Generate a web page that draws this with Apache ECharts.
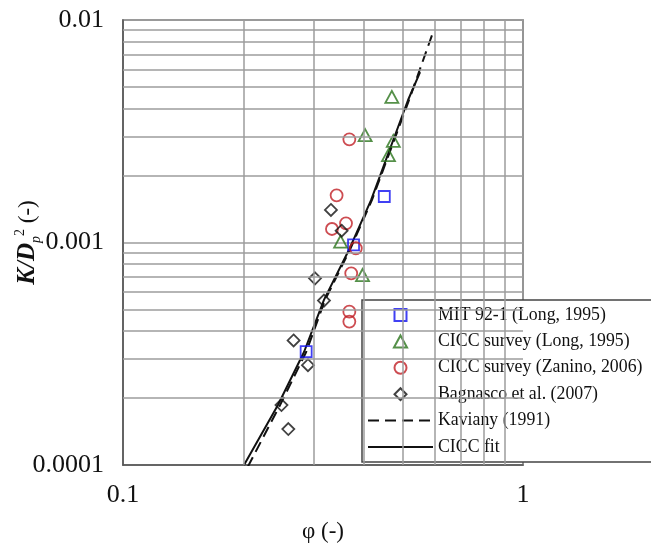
<!DOCTYPE html>
<html>
<head>
<meta charset="utf-8">
<script src="https://cdn.jsdelivr.net/npm/echarts@6/dist/echarts.min.js"></script>
<style>
html, body { margin: 0; padding: 0; background: #fff; }
#main { width: 651px; height: 550px; }
</style>
</head>
<body>
<div id="main"></div>
<script>
// MIT 92-1 (Long, 1995)
var mitX = [0.450, 0.377, 0.287];
var mitY = [0.00161, 0.000975, 0.000323];
// CICC survey (Long, 1995)
var longX = [0.470, 0.403, 0.474, 0.461, 0.350, 0.397];
var longY = [0.00451, 0.00304, 0.00286, 0.00247, 0.00101, 0.000714];
// CICC survey (Zanino, 2006)
var zaninoX = [0.368, 0.342, 0.333, 0.361, 0.382, 0.372, 0.368, 0.368];
var zaninoY = [0.00291, 0.00163, 0.00115, 0.00122, 0.000942, 0.000727, 0.000489, 0.000441];
// Bagnasco et al. (2007)
var bagX = [0.331, 0.352, 0.302, 0.318, 0.267, 0.290, 0.249, 0.259];
var bagY = [0.00140, 0.00113, 0.000690, 0.000548, 0.000363, 0.000281, 0.000186, 0.000145];
// Kaviany (1991)
var kavX = [0.205, 0.247, 0.287, 0.320, 0.369, 0.419, 0.519, 0.596];
var kavY = [0.000098, 0.000186, 0.000322, 0.000552, 0.000925, 0.00155, 0.00437, 0.00883];
// CICC fit
var fitX = [0.2007, 0.244, 0.2835, 0.318, 0.367, 0.417, 0.516, 0.553];
var fitY = [0.0001, 0.000186, 0.000322, 0.000552, 0.000925, 0.00155, 0.00437, 0.00583];

// minor grid values (log axes)
var xMinor = [0.2, 0.3, 0.4, 0.5, 0.6, 0.7, 0.8, 0.9];
var yMinor = [0.0002, 0.0003, 0.0004, 0.0005, 0.0006, 0.0007, 0.0008, 0.0009,
              0.002, 0.003, 0.004, 0.005, 0.006, 0.007, 0.008, 0.009];
var xMin = 0.1, xMax = 1, yMin = 0.0001, yMax = 0.01;

var serif = 'Liberation Serif';
var gridCol = '#9c9c9c';

function pairs(xs, ys) {
	var out = [];
	for (var i = 0; i < xs.length; i++) out.push([xs[i], ys[i]]);
	return out;
}

function marker(name, sym, size, col, xs, ys) {
	return {
		name: name, type: 'scatter', z: 3,
		symbol: sym, symbolSize: size,
		itemStyle: { color: 'rgba(0,0,0,0)', borderColor: col, borderWidth: 1.8 },
		data: pairs(xs, ys)
	};
}

// minor gridlines as marklines through the axis scales
var minorLines = [];
xMinor.forEach(function (v) { minorLines.push([{ coord: [v, yMin] }, { coord: [v, yMax] }]); });
yMinor.forEach(function (v) { minorLines.push([{ coord: [xMin, v] }, { coord: [xMax, v] }]); });

var noDot = { color: 'rgba(0,0,0,0)', borderWidth: 0 };

var chart = echarts.init(document.getElementById('main'));
chart.setOption({
	animation: false,
	grid: { left: 123, top: 20, width: 400, height: 445, show: true, borderColor: '#555', borderWidth: 1.5,
		containLabel: false, outerBoundsMode: 'none' },
	legend: {
		orient: 'vertical', left: 362, top: 300,
		padding: [5, 60, 5, 5],
		itemWidth: 65, itemHeight: 12, itemGap: 6.4,
		symbolKeepAspect: true,
		backgroundColor: '#fff', borderColor: '#444', borderWidth: 1.5,
		selectedMode: false,
		textStyle: { fontFamily: serif, fontSize: 17.8, color: '#111', lineHeight: 20 },
		data: [
			{ name: 'MIT 92-1 (Long, 1995)', icon: 'path://M0,0L11,0L11,11L0,11Z' },
			{ name: 'CICC survey (Long, 1995)', icon: 'path://M6,0L12,11L0,11Z' },
			{ name: 'CICC survey (Zanino, 2006)', icon: 'circle' },
			{ name: 'Bagnasco et al. (2007)', icon: 'path://M6,0L12,6L6,12L0,6Z' },
			{ name: 'Kaviany (1991)', itemStyle: noDot },
			{ name: 'CICC fit', itemStyle: noDot }]
	},
	xAxis: {
		type: 'log', logBase: 10, min: xMin, max: xMax,
		name: 'φ (-)', nameLocation: 'middle', nameGap: 55, nameMoveOverlap: false,
		nameTextStyle: { fontFamily: serif, fontSize: 23, color: '#111' },
		axisLine: { lineStyle: { color: '#555', width: 1.5 } },
		axisTick: { show: false },
		axisLabel: { fontFamily: serif, fontSize: 26, color: '#111', margin: 17,
			formatter: function (v) { return String(+v.toPrecision(3)); } },
		splitLine: { show: true, lineStyle: { color: gridCol, width: 1.5 } }
	},
	yAxis: {
		type: 'log', logBase: 10, min: yMin, max: yMax,
		name: '{k|K/D}{p|p}{s|2}{n| (-)}', nameLocation: 'middle', nameGap: 80, nameRotate: 90,
		nameMoveOverlap: false,
		nameTextStyle: {
			fontFamily: serif, fontSize: 23, color: '#111', lineHeight: 30,
			rich: {
				k: { fontFamily: serif, fontSize: 25, fontWeight: 'bold', fontStyle: 'italic', color: '#111', lineHeight: 30 },
				p: { fontFamily: serif, fontSize: 14, fontStyle: 'italic', color: '#111', verticalAlign: 'bottom', lineHeight: 30 },
				s: { fontFamily: serif, fontSize: 14, color: '#111', verticalAlign: 'top', lineHeight: 30 },
				n: { fontFamily: serif, fontSize: 23, color: '#111', lineHeight: 30 }
			}
		},
		axisLine: { lineStyle: { color: '#555', width: 1.5 } },
		axisTick: { show: false },
		axisLabel: { fontFamily: serif, fontSize: 26, color: '#111', margin: 19,
			formatter: function (v) { return String(+v.toPrecision(3)); } },
		splitLine: { show: true, lineStyle: { color: gridCol, width: 1.5 } }
	},
	series: [
		{
			name: 'minor grid', type: 'scatter', z: 1,
			symbolSize: 0, data: [[xMin, yMin]],
			markLine: {
				silent: true, symbol: 'none', animation: false,
				label: { show: false },
				lineStyle: { color: gridCol, width: 1.5, type: 'solid' },
				data: minorLines
			}
		},
		marker('MIT 92-1 (Long, 1995)', 'rect', 11, '#1010f0', mitX, mitY),
		marker('CICC survey (Long, 1995)', 'triangle', [13, 12], '#2a741c', longX, longY),
		marker('CICC survey (Zanino, 2006)', 'circle', 12, '#c01f25', zaninoX, zaninoY),
		marker('Bagnasco et al. (2007)', 'diamond', [12, 12], '#111', bagX, bagY),
		{
			name: 'Kaviany (1991)', type: 'line', z: 2, showSymbol: false, symbol: 'none',
			lineStyle: { color: '#111', width: 2, type: [11, 6] },
			itemStyle: { color: '#111' },
			data: pairs(kavX, kavY)
		},
		{
			name: 'CICC fit', type: 'line', z: 2, showSymbol: false, symbol: 'none',
			lineStyle: { color: '#111', width: 2 },
			itemStyle: { color: '#111' },
			data: pairs(fitX, fitY)
		}
	]
});
</script>
</body>
</html>
